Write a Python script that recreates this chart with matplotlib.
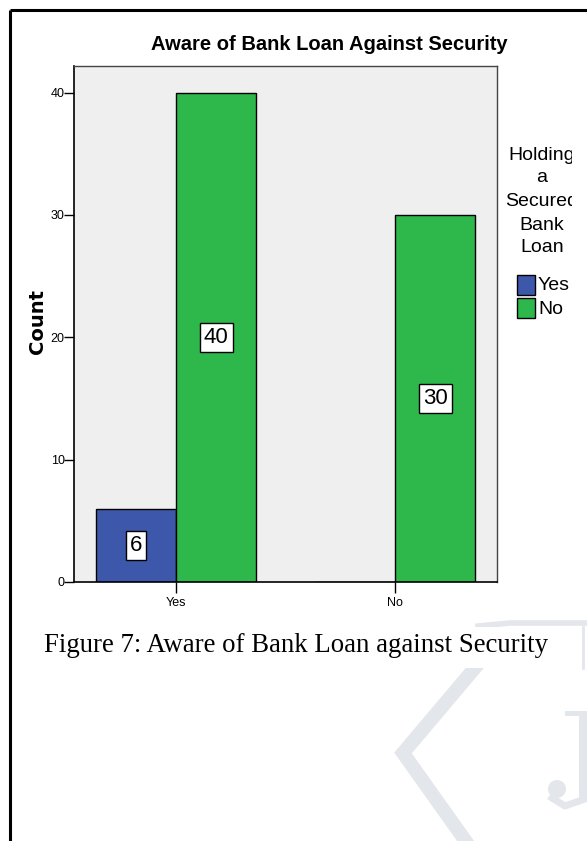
import matplotlib
matplotlib.use("Agg")
import matplotlib.pyplot as plt
from matplotlib.patches import Rectangle, Circle
from matplotlib.transforms import Bbox, TransformedBbox
import numpy as np

# ---- data ----
categories = ["Yes", "No"]
series_names = ["Yes", "No"]
yes_counts = [6, 0]
no_counts = [40, 30]
y_ticks = [0, 10, 20, 30, 40]

title = "Aware of Bank Loan Against Security"
y_label = "Count"
legend_title_lines = ["Holding", "a", "Secured", "Bank", "Loan"]
caption = "Figure 7: Aware of Bank Loan against Security"

blue = "#3D58AB"
green = "#2EB84B"

SANS = ["Liberation Sans", "DejaVu Sans"]

W, H = 587, 841
fig = plt.figure(figsize=(W / 100, H / 100), dpi=100)
fig.patch.set_facecolor("white")

# overlay in pixel coords for page decorations
ov = fig.add_axes([0, 0, 1, 1], zorder=0)
ov.set_xlim(0, W)
ov.set_ylim(H, 0)
ov.axis("off")

# page border
ov.plot([9.5, W], [9.5, 9.5], color="black", lw=2.2, solid_capstyle="butt", zorder=6)
ov.plot([9.5, 9.5], [9.5, H], color="black", lw=2.2, solid_capstyle="butt", zorder=6)

# faint watermark
wm = "#E3E6EA"
ov.plot([490, 403, 472], [650, 753, 850], color=wm, lw=10, solid_joinstyle="miter", zorder=1)
ov.plot([478, 510, 600], [626, 623, 623], color=wm, lw=4, zorder=1)
ov.add_patch(Rectangle((579, 712), 11, 90, color=wm, lw=0, zorder=1))
ov.add_patch(Rectangle((565, 711), 28, 5, color=wm, lw=0, zorder=1))
ov.add_patch(Circle((557, 789), 9, color=wm, lw=0, zorder=1))
ov.plot([552, 565, 582], [798, 806, 800], color=wm, lw=5, zorder=1)
# caption box
ov.add_patch(Rectangle((30, 627), 553, 41, facecolor="white", edgecolor="none", zorder=3))
ov.plot([583, 583], [627, 668], color="#E4E6EA", lw=2, zorder=3)
ov.text(44, 646, caption, family=["Liberation Serif", "DejaVu Serif"], fontsize=19.3,
        ha="left", va="center", color="black", zorder=4)

# ---- main chart ----
ax = fig.add_axes([74.5 / W, 1 - 582 / H, (496.7 - 74.5) / W, (582 - 65.7) / H], zorder=2)
ax.set_facecolor("#EFEFEF")
x = np.arange(len(categories))
w = 0.367
b1 = ax.bar(x - w, yes_counts, width=w, align="edge", color=blue, edgecolor="black", lw=1)
b2 = ax.bar(x, no_counts, width=w, align="edge", color=green, edgecolor="black", lw=1)
for bars, vals in ((b1, yes_counts), (b2, no_counts)):
    for r, v in zip(bars, vals):
        if v > 0:
            ax.text(r.get_x() + r.get_width() / 2, v / 2, str(v), ha="center", va="center",
                    family=SANS, fontsize=16, color="black",
                    bbox=dict(boxstyle="square,pad=0.18", facecolor="white", edgecolor="black", lw=1))

ax.set_xlim(-0.463, 1.464)
ax.set_ylim(0, 42.2)
ax.set_yticks(y_ticks)
ax.set_yticklabels([str(t) for t in y_ticks], family=SANS, fontsize=9)
ax.set_xticks(x)
ax.set_xticklabels(categories, family=SANS, fontsize=9)
ax.tick_params(axis="y", direction="out", length=7, width=1, pad=0)
ax.tick_params(axis="x", direction="out", length=8, width=1, pad=3)
for s in ("left", "bottom"):
    ax.spines[s].set_color("black")
    ax.spines[s].set_linewidth(1.2)
for s in ("top", "right"):
    ax.spines[s].set_color("#444444")
    ax.spines[s].set_linewidth(1)

fig.text(329 / W, 1 - 45 / H, title, ha="center", va="center", family=SANS,
         fontsize=14.5, fontweight="bold")
fig.text(38 / W, 1 - 322 / H, y_label, ha="center", va="center", rotation=90,
         family="DejaVu Sans", fontsize=14, fontweight="bold")

# legend (manual, clipped at the right like the original)
clip = TransformedBbox(Bbox([[0, 0], [572 / W, 1]]), fig.transFigure)
ys = [155, 178, 201, 225, 248]
for line, yy in zip(legend_title_lines, ys):
    t = fig.text(542 / W, 1 - yy / H, line, ha="center", va="center", family=SANS, fontsize=14)
    t.set_clip_box(clip)
    t.set_clip_on(True)
for i, (name, col) in enumerate(zip(series_names, [blue, green])):
    y0 = 275 + i * 23
    ov.add_patch(Rectangle((517, y0), 18, 20, facecolor=col, edgecolor="black", lw=1))
    ov.text(538, y0 + 11, name, ha="left", va="center", family=SANS, fontsize=14)

fig.savefig("out.png", dpi=100)
